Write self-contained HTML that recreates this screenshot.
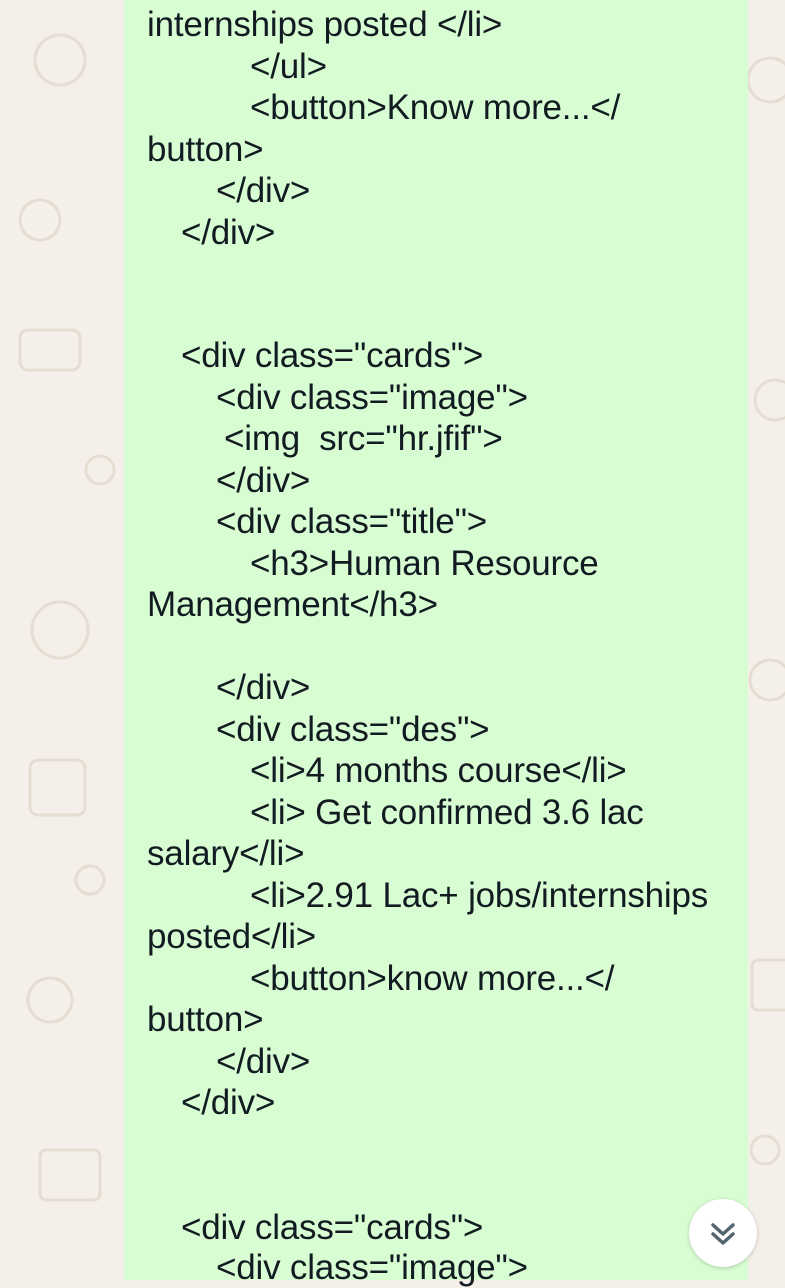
<!DOCTYPE html>
<html><head><meta charset="utf-8">
<style>
html,body{margin:0;padding:0}
body{width:785px;height:1280px;overflow:hidden;background:#f4efe8;position:relative;font-family:"Liberation Sans",sans-serif}
.doodle{position:absolute;left:0;top:0;width:785px;height:1280px}
.bubble{position:absolute;left:124px;top:0;width:624px;height:1280px;background:#d9fdd3}
.ln{position:absolute;font-size:35px;color:#111b21;white-space:pre;line-height:40px;letter-spacing:-0.2px}
.scroll{position:absolute;left:689px;top:1199px;width:68px;height:68px;border-radius:50%;background:#fff;box-shadow:0 1px 4px rgba(0,0,0,.2)}
</style></head>
<body>
<svg class="doodle" viewBox="0 0 785 1280">
<g fill="none" stroke="#e6ddd2" stroke-width="3">
<circle cx="60" cy="60" r="25"/><circle cx="40" cy="220" r="20"/><rect x="20" y="330" width="60" height="40" rx="8"/>
<circle cx="60" cy="630" r="28"/><rect x="30" y="760" width="55" height="55" rx="8"/><circle cx="50" cy="1000" r="22"/>
<rect x="40" y="1150" width="60" height="50" rx="6"/><circle cx="770" cy="80" r="22"/><circle cx="775" cy="400" r="20"/>
<circle cx="770" cy="680" r="20"/><rect x="752" y="960" width="40" height="50" rx="6"/><circle cx="100" cy="470" r="14"/>
<circle cx="90" cy="880" r="14"/><circle cx="765" cy="1150" r="14"/>
</g></svg>
<div class="bubble"></div>
<div id="lines"></div>
<div class="scroll">
<svg width="68" height="68" viewBox="0 0 68 68"><g fill="none" stroke="#54656f" stroke-width="3.5" stroke-linecap="round" stroke-linejoin="round"><path d="M24 26 L34 35 L44 26"/><path d="M24 35 L34 44 L44 35"/></g></svg>
</div>
<script>
var lines=[
[25,147,'internships posted </li>'],
[67,250,'</ul>'],
[108,250,'<button>Know more...</'],
[150,147,'button>'],
[191,216,'</div>'],
[233,181,'</div>'],
[356,181,'<div class="cards">'],
[398,216,'<div class="image">'],
[439,224,'<img  src="hr.jfif">'],
[481,216,'</div>'],
[522,216,'<div class="title">'],
[564,250,'<h3>Human Resource'],
[605,147,'Management</h3>'],
[688,216,'</div>'],
[730,216,'<div class="des">'],
[771,250,'<li>4 months course</li>'],
[813,250,'<li> Get confirmed 3.6 lac'],
[854,147,'salary</li>'],
[896,250,'<li>2.91 Lac+ jobs/internships'],
[937,147,'posted</li>'],
[979,250,'<button>know more...</'],
[1020,147,'button>'],
[1062,216,'</div>'],
[1103,181,'</div>'],
[1228,181,'<div class="cards">'],
[1268,216,'<div class="image">']
];
var c=document.getElementById('lines');
lines.forEach(function(l,i){
var d=document.createElement('div');
d.className='ln';


d.style.top=(l[0]-20)+'px';d.style.left=l[1]+'px';
d.textContent=l[2];c.appendChild(d);
});
</script>
</body></html>
